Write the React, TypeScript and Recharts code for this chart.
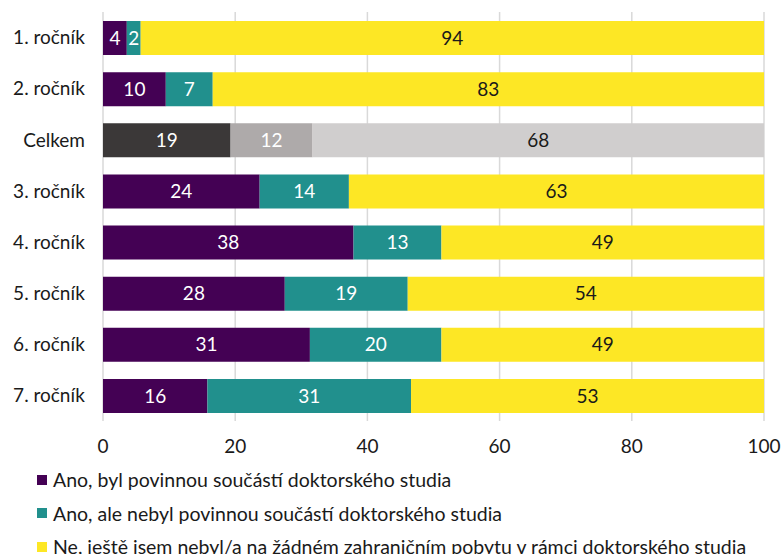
import { BarChart, Bar, XAxis, YAxis, CartesianGrid, Cell, LabelList } from "recharts";

const CATEGORIES = ["1. ročník", "2. ročník", "Celkem", "3. ročník", "4. ročník", "5. ročník", "6. ročník", "7. ročník"];
const POVINNY = [3.6, 9.5, 19.3, 23.7, 37.9, 27.5, 31.3, 15.8];
const NEPOVINNY = [2.1, 7.1, 12.4, 13.5, 13.3, 18.6, 19.9, 30.8];
const NE = [94.3, 83.4, 68.3, 62.8, 48.8, 53.9, 48.8, 53.4];
const X_TICKS = [0, 20, 40, 60, 80, 100];

const SERIES = [
  { key: "povinny", name: "Ano, byl povinnou součástí doktorského studia", color: "#440154", total: "#3b3838", label: "#ffffff" },
  { key: "nepovinny", name: "Ano, ale nebyl povinnou součástí doktorského studia", color: "#21908d", total: "#aeaaaa", label: "#ffffff" },
  { key: "ne", name: "Ne, ještě jsem nebyl/a na žádném zahraničním pobytu v rámci doktorského studia", color: "#fde725", total: "#d0cece", label: "#1a1a1a" },
];

const data = CATEGORIES.map((name, i) => ({
  name,
  povinny: POVINNY[i],
  nepovinny: NEPOVINNY[i],
  ne: NE[i],
}));

const FONT = "Lato, 'Noto Sans', sans-serif";

export default function App() {
  return (
    <div style={{ position: "absolute", left: 0, top: 0, width: 781, height: 554, overflow: "hidden", fontFamily: FONT }}>
      <BarChart
        width={781}
        height={461}
        data={data}
        layout="vertical"
        margin={{ top: 12, right: 17, bottom: 0, left: 0 }}
        style={{ fontFamily: FONT }}
      >
        <CartesianGrid horizontal={false} stroke="#d9d9d9" strokeWidth={1.5} />
        <XAxis
          type="number"
          domain={[0, 100]}
          ticks={X_TICKS}
          axisLine={false}
          tickLine={false}
          tickMargin={13}
          height={40}
          tick={{ fill: "#1a1a1a", fontSize: 19 }}
        />
        <YAxis
          type="category"
          dataKey="name"
          width={103}
          axisLine={false}
          tickLine={false}
          tickMargin={12}
          tick={{ fill: "#1a1a1a", fontSize: 19 }}
        />
        {SERIES.map((s) => (
          <Bar key={s.key} dataKey={s.key} stackId="a" barSize={34} isAnimationActive={false}>
            {data.map((d) => (
              <Cell key={d.name} fill={d.name === "Celkem" ? s.total : s.color} />
            ))}
            <LabelList
              dataKey={s.key}
              position="center"
              formatter={(v: any) => Math.round(Number(v))}
              fill={s.label}
              style={{ fontSize: 19 }}
            />
          </Bar>
        ))}
      </BarChart>
      <div style={{ position: "absolute", left: 37, top: 463 }}>
        {SERIES.map((s) => (
          <div key={s.key} style={{ display: "flex", alignItems: "center", height: 33.5 }}>
            <span style={{ display: "inline-block", width: 10, height: 10, background: s.color, marginRight: 6 }} />
            <span style={{ fontSize: 19.5, color: "#1a1a1a", whiteSpace: "nowrap" }}>{s.name}</span>
          </div>
        ))}
      </div>
    </div>
  );
}
